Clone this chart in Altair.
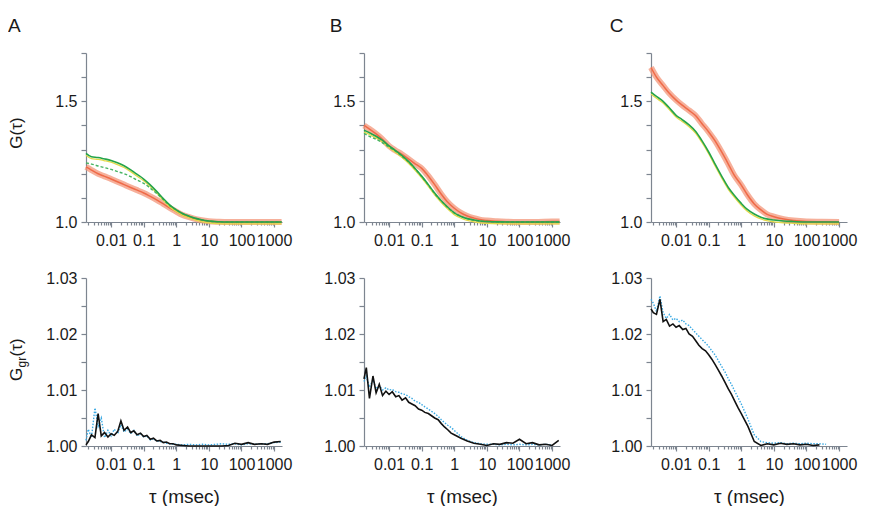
import altair as alt
import pandas as pd

FONT = "Liberation Sans"
AX = "#7d8590"
TXT = "#1a1a1a"

# ---------------- data ----------------
TAU_TOP = [0.0017, 0.0025, 0.004, 0.006, 0.01, 0.015, 0.025, 0.04, 0.06, 0.1, 0.15, 0.25,
           0.4, 0.6, 1, 1.5, 2.5, 4, 6, 10, 20, 40, 100, 300, 1000, 1700]

A_ORANGE = [1.228, 1.215, 1.200, 1.190, 1.178, 1.168, 1.155, 1.143, 1.133, 1.120, 1.108, 1.092,
            1.075, 1.060, 1.043, 1.030, 1.020, 1.012, 1.007, 1.003, 1.001, 1.000, 1.000, 1.000, 1.000, 1.000]
A_GREEN = [1.284, 1.270, 1.267, 1.262, 1.255, 1.246, 1.233, 1.216, 1.199, 1.178, 1.157, 1.127,
           1.097, 1.073, 1.050, 1.036, 1.024, 1.015, 1.009, 1.004, 1.001, 1.000, 1.000, 1.000, 1.000, 1.000]
A_GDASH = [1.245, 1.240, 1.232, 1.226, 1.218, 1.210, 1.200, 1.188, 1.175, 1.160, 1.143, 1.118,
           1.093, 1.070, 1.050, 1.036, 1.024, 1.015, 1.009, 1.004, 1.001, 1.000, 1.000, 1.000, 1.000, 1.000]

B_ORANGE = [1.400, 1.385, 1.365, 1.345, 1.315, 1.298, 1.280, 1.260, 1.243, 1.222, 1.195, 1.155,
            1.115, 1.085, 1.057, 1.040, 1.025, 1.016, 1.010, 1.006, 1.003, 1.001, 1.000, 1.000, 1.002, 1.002]
B_GREEN = [1.380, 1.370, 1.355, 1.340, 1.315, 1.298, 1.275, 1.250, 1.225, 1.190, 1.160, 1.120,
           1.088, 1.064, 1.038, 1.025, 1.014, 1.008, 1.004, 1.002, 1.0005, 1.000, 1.000, 1.000, 1.000, 1.000]
B_GDASH = [1.367, 1.355, 1.343, 1.330, 1.310, 1.295, 1.272, 1.248, 1.223, 1.188, 1.158, 1.118,
           1.087, 1.063, 1.038, 1.025, 1.014, 1.008, 1.004, 1.002, 1.0005, 1.000, 1.000, 1.000, 1.000, 1.000]

C_ORANGE = [1.640, 1.600, 1.565, 1.535, 1.505, 1.485, 1.462, 1.440, 1.410, 1.373, 1.340, 1.290,
            1.240, 1.195, 1.153, 1.115, 1.075, 1.050, 1.033, 1.022, 1.012, 1.006, 1.002, 1.001, 1.000, None]
C_GREEN = [1.538, 1.520, 1.500, 1.475, 1.442, 1.425, 1.402, 1.375, 1.340, 1.290, 1.245, 1.190,
           1.143, 1.112, 1.077, 1.053, 1.033, 1.020, 1.013, 1.008, 1.004, 1.002, 1.000, 1.000, 1.000, None]
C_GDASH = [None] * 26

TAU_BOT = [0.0017, 0.002, 0.0025, 0.0032, 0.004, 0.005, 0.0063, 0.008, 0.01, 0.0125, 0.016, 0.02,
           0.025, 0.032, 0.04, 0.05, 0.063, 0.08, 0.1, 0.125, 0.16, 0.2, 0.25, 0.32, 0.4, 0.5,
           0.63, 0.8, 1, 1.6, 2.5, 4, 6.3, 10, 16, 25, 40, 63, 100, 160, 250, 400, 630, 1000, 1600]

A_BLACK = [1.0002, 1.0008, 1.0020, 1.0015, 1.0058, 1.0018, 1.0024, 1.0016, 1.0022, 1.0019,
           1.0026, 1.0045, 1.0028, 1.0034, 1.0024, 1.0027, 1.0020, 1.0023, 1.0017, 1.0019,
           1.0012, 1.0014, 1.0009, 1.0010, 1.0006, 1.0007, 1.0004, 1.0004, 1.0002, 1.0001,
           1.0000, 1.0000, 1.0000, 1.0000, 1.0000, 1.0000, 1.0001, 1.0005, 1.0003, 1.0006,
           1.0003, 1.0004, 1.0003, 1.0007, 1.0008]
A_BLUE = [1.0010, 1.0030, 1.0015, 1.0068, 1.0035, 1.0050, 1.0015, 1.0028, 1.0018, 1.0030,
          1.0022, 1.0038, 1.0025, 1.0030, 1.0022, 1.0028, 1.0018, 1.0022, 1.0016, 1.0018,
          1.0011, 1.0013, 1.0009, 1.0008, 1.0007, 1.0005, 1.0004, 1.0003, 1.0003, 1.0002,
          1.0003, 1.0002, 1.0003, 1.0002, 1.0003, 1.0004, 1.0003, 1.0004, 1.0002, 1.0004,
          1.0003, 1.0004, 1.0004, 1.0006, 1.0007]

B_BLACK = [1.0120, 1.0140, 1.0085, 1.0125, 1.0095, 1.0110, 1.0090, 1.0098, 1.0092, 1.0097,
           1.0088, 1.0090, 1.0082, 1.0086, 1.0078, 1.0075, 1.0072, 1.0066, 1.0064, 1.0060,
           1.0058, 1.0054, 1.0050, 1.0047, 1.0040, 1.0034, 1.0029, 1.0023, 1.0020, 1.0014,
           1.0009, 1.0005, 1.0003, 1.0001, 1.0004, 1.0003, 1.0006, 1.0005, 1.0012, 1.0004,
           1.0006, 1.0002, 1.0003, 1.0001, 1.0010]
B_BLUE = [1.0115, 1.0125, 1.0105, 1.0118, 1.0102, 1.0108, 1.0100, 1.0104, 1.0100, 1.0101,
          1.0097, 1.0096, 1.0093, 1.0092, 1.0088, 1.0085, 1.0080, 1.0078, 1.0074, 1.0070,
          1.0066, 1.0062, 1.0058, 1.0053, 1.0047, 1.0042, 1.0037, 1.0033, 1.0028, 1.0017,
          1.0010, 1.0006, 1.0004, 1.0003, 1.0003, 1.0002, 1.0003, 1.0002, 1.0003, 1.0002,
          1.0003, 1.0002, 1.0003, 1.0002, None]

C_BLACK = [1.0245, 1.0238, 1.0235, 1.0262, 1.0222, 1.0226, 1.0214, 1.0218, 1.0212, 1.0215,
           1.0208, 1.0210, 1.0200, 1.0196, 1.0188, 1.0180, 1.0174, 1.0170, 1.0163, 1.0155,
           1.0145, 1.0135, 1.0125, 1.0113, 1.0102, 1.0092, 1.0080, 1.0068, 1.0058, 1.0035,
           1.0008, 1.0001, 1.0004, 1.0002, 1.0005, 1.0003, 1.0004, 1.0002, 1.0003, 1.0001,
           1.0002, None, None, None, None]
C_BLUE = [1.0262, 1.0255, 1.0240, 1.0268, 1.0238, 1.0228, 1.0235, 1.0225, 1.0228, 1.0222,
          1.0225, 1.0218, 1.0215, 1.0208, 1.0202, 1.0196, 1.0190, 1.0184, 1.0178, 1.0170,
          1.0162, 1.0152, 1.0142, 1.0132, 1.0120, 1.0110, 1.0098, 1.0086, 1.0075, 1.0048,
          1.0020, 1.0008, 1.0006, 1.0005, 1.0006, 1.0004, 1.0005, 1.0004, 1.0005, 1.0004,
          1.0004, 1.0003, None, None, None]

# ---------------- axes ----------------
X_DOMAIN = [0.0017, 1750]
X_MAJOR = [0.01, 0.1, 1, 10, 100, 1000]
X_DECADES = [0.001, 0.01, 0.1, 1, 10, 100]
X_MINOR_MULT = [2, 3, 4, 5, 6, 7, 8, 9]
X_TICKS = sorted(X_MAJOR + [round(m * d, 6) for d in X_DECADES for m in X_MINOR_MULT
                            if X_DOMAIN[0] <= m * d <= X_DOMAIN[1]])
MAJOR_TEST = "indexof([0.01,0.1,1,10,100,1000], datum.value) >= 0"

Y_TOP_TICKS = [1.0, 1.1, 1.2, 1.3, 1.4, 1.5, 1.6, 1.7]
Y_BOT_TICKS = [1.0, 1.005, 1.01, 1.015, 1.02, 1.025, 1.03]

x_scale = alt.Scale(type="log", domain=X_DOMAIN, nice=False)


def x_axis(title=None):
    kw = dict(values=X_TICKS,
              labelExpr=f"{MAJOR_TEST} ? format(datum.value, '~g') : ''",
              tickSize={"condition": {"test": MAJOR_TEST, "value": 5}, "value": 3},
              labelPadding=5, labelOverlap=False, labelFlush=False, grid=False)
    if title:
        kw.update(title=title, titlePadding=15)
    else:
        kw.update(title=None)
    return alt.Axis(**kw)


y_axis_top = alt.Axis(values=Y_TOP_TICKS, title=None, grid=False, tickSize=5, labelPadding=4,
                      labelExpr="(round(datum.value*10) % 5 == 0) ? format(datum.value, '.1f') : ''")
y_axis_bot = alt.Axis(values=Y_BOT_TICKS, title=None, grid=False, tickSize=5, labelPadding=4,
                      labelExpr="(round(datum.value*1000) % 10 == 0) ? format(datum.value, '.2f') : ''")

W = 196
H_TOP = 169
H_BOT = 168


def make_df(tau, series):
    rows = []
    for name, vals in series.items():
        for t, v in zip(tau, vals):
            if v is not None:
                rows.append({"tau": t, "g": v, "s": name})
    return pd.DataFrame(rows)


def text_layer(txt, x, y, size, align="center"):
    return alt.Chart(pd.DataFrame({"t": [txt]})).mark_text(
        angle=270, font=FONT, fontSize=size, color=TXT, align=align, baseline="middle"
    ).encode(x=alt.value(x), y=alt.value(y), text="t:N")


def top_panel(letter, orange, green, gdash, ytitle, dx):
    df = make_df(TAU_TOP, {"orange": orange, "green": green, "gdash": gdash})
    base = alt.Chart(df).encode(
        x=alt.X("tau:Q", scale=x_scale, axis=x_axis()),
        y=alt.Y("g:Q", scale=alt.Scale(domain=[1.0, 1.7], nice=False, zero=False), axis=y_axis_top),
    )
    band = base.transform_filter(alt.datum.s == "orange").mark_line(
        color="#f3957a", strokeWidth=6, opacity=0.75, interpolate="monotone")
    core = base.transform_filter(alt.datum.s == "orange").mark_line(
        color="#ef6a48", strokeWidth=1.5, interpolate="monotone")
    yellow = base.transform_filter(alt.datum.s == "green").mark_line(
        color="#e3da4a", strokeWidth=1.3, yOffset=1.8, interpolate="monotone")
    dash = base.transform_filter(alt.datum.s == "gdash").mark_line(
        color="#46b463", strokeWidth=1.4, strokeDash=[3, 2], interpolate="monotone")
    gline = base.transform_filter(alt.datum.s == "green").mark_line(
        color="#25a449", strokeWidth=1.6, interpolate="monotone")
    layers = [band, core, yellow, dash, gline]
    if ytitle:
        layers.append(text_layer("G(τ)", -69, 80, 17))
    return alt.layer(*layers).properties(
        width=W, height=H_TOP,
        title=alt.TitleParams(letter, anchor="start", frame="bounds", font=FONT, fontSize=19,
                              fontWeight="normal", color=TXT, offset=16, dx=dx))


def bottom_panel(black, blue, ytitle):
    df = make_df(TAU_BOT, {"black": black, "blue": blue})
    base = alt.Chart(df).encode(
        x=alt.X("tau:Q", scale=x_scale, axis=x_axis("τ (msec)")),
        y=alt.Y("g:Q", scale=alt.Scale(domain=[1.0, 1.03], nice=False, zero=False), axis=y_axis_bot),
    )
    bline = base.transform_filter(alt.datum.s == "blue").mark_line(
        color="#3aa9e3", strokeWidth=1.4, strokeDash=[1.5, 1.5])
    kline = base.transform_filter(alt.datum.s == "black").mark_line(
        color="#111111", strokeWidth=1.6)
    layers = [bline, kline]
    if ytitle:
        layers += [text_layer("G", -69, 103, 17, "left"),
                   text_layer("gr", -64, 89.5, 12, "left"),
                   text_layer("(τ)", -69, 78.5, 17, "left")]
    return alt.layer(*layers).properties(width=W, height=H_BOT)


colA = alt.vconcat(top_panel("A", A_ORANGE, A_GREEN, A_GDASH, True, 0),
                   bottom_panel(A_BLACK, A_BLUE, True), spacing=22)
colB = alt.vconcat(top_panel("B", B_ORANGE, B_GREEN, B_GDASH, False, -3),
                   bottom_panel(B_BLACK, B_BLUE, False), spacing=22)
colC = alt.vconcat(top_panel("C", C_ORANGE, C_GREEN, C_GDASH, False, -10),
                   bottom_panel(C_BLACK, C_BLUE, False), spacing=22)

chart = alt.hconcat(alt.hconcat(colA, colB, spacing=29), colC, spacing=37).properties(
    padding={"left": 0, "top": 9, "right": 2, "bottom": 0}
).configure_view(stroke=None).configure_axis(
    domainColor=AX, tickColor=AX, domainWidth=1.2, tickWidth=1.2,
    labelColor=TXT, labelFont=FONT, labelFontSize=16,
    titleFont=FONT, titleFontSize=19, titleFontWeight="normal", titleColor=TXT,
)

chart.save("out.html", embed_options={"renderer": "svg", "actions": False})
